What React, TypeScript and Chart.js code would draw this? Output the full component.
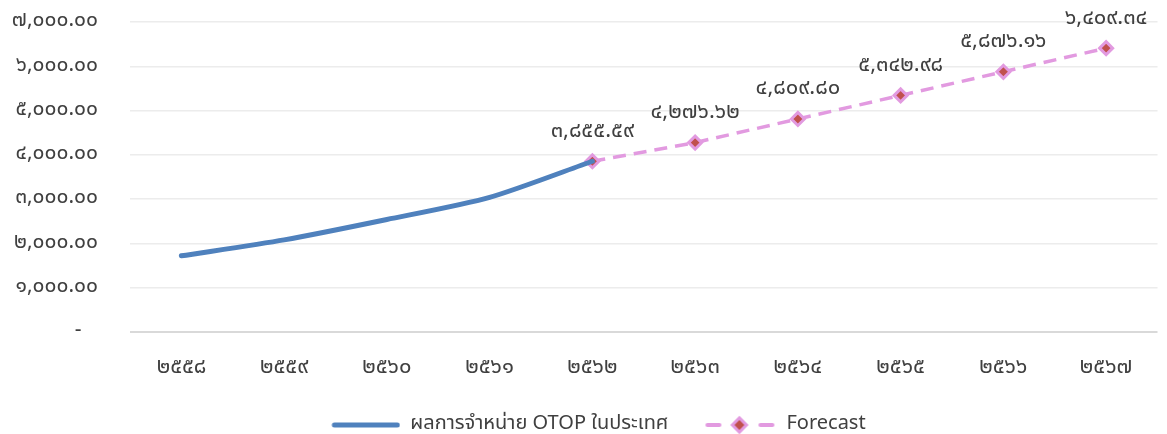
import React, { useEffect, useRef } from "react";
import { Chart, registerables } from "chart.js";

Chart.register(...registerables);

const years = ["2558", "2559", "2560", "2561", "2562", "2563", "2564", "2565", "2566", "2567"];
const actualSales = [1720, 2080, 2540, 3040, 3855.59, null, null, null, null, null];
const forecastSales = [null, null, null, null, 3855.59, 4276.62, 4809.8, 5342.98, 5876.16, 6409.34];
const actualLabel = "ผลการจำหน่าย OTOP ในประเทศ";
const forecastLabel = "Forecast";
const yMax = 7000;
const yStep = 1000;

const FONT = "'Noto Sans Thai', 'Noto Sans Thai UI', Tahoma, 'DejaVu Sans', sans-serif";
const BLUE = "#4f81bd";
const PINK = "#e29ae0";
const RED = "#c0504d";
const TEXT = "#404040";

const toThai = (s: string) => s.replace(/[0-9]/g, (d) => String.fromCharCode(0x0e50 + Number(d)));
const fmt = (v: number) =>
  toThai(v.toLocaleString("en-US", { minimumFractionDigits: 2, maximumFractionDigits: 2 }));

const SW_W = 104;

function makeLineSwatch(): HTMLCanvasElement {
  const c = document.createElement("canvas");
  c.width = SW_W;
  c.height = 8;
  const g = c.getContext("2d")!;
  g.strokeStyle = BLUE;
  g.lineWidth = 5;
  g.lineCap = "round";
  g.beginPath();
  g.moveTo(SW_W - 66, 4);
  g.lineTo(SW_W - 3, 4);
  g.stroke();
  return c;
}

function makeForecastSwatch(): HTMLCanvasElement {
  const c = document.createElement("canvas");
  c.width = SW_W;
  c.height = 20;
  const g = c.getContext("2d")!;
  const x0 = SW_W - 72;
  g.strokeStyle = PINK;
  g.lineWidth = 4;
  g.lineCap = "round";
  g.beginPath();
  g.moveTo(x0 + 3, 10);
  g.lineTo(x0 + 15, 10);
  g.moveTo(x0 + 56, 10);
  g.lineTo(x0 + 68, 10);
  g.stroke();
  g.save();
  g.translate(x0 + 35, 10);
  g.rotate(Math.PI / 4);
  g.fillStyle = PINK;
  g.fillRect(-6.5, -6.5, 13, 13);
  g.fillStyle = RED;
  g.fillRect(-3.5, -3.5, 7, 7);
  g.restore();
  return c;
}

const dataLabelPlugin = {
  id: "forecastLabels",
  afterDatasetsDraw(chart: any) {
    const meta = chart.getDatasetMeta(1);
    const ds = chart.data.datasets[1];
    const ctx = chart.ctx;
    ctx.save();
    ctx.font = `22px ${FONT}`;
    ctx.fillStyle = TEXT;
    ctx.textAlign = "center";
    ctx.textBaseline = "middle";
    meta.data.forEach((pt: any, i: number) => {
      const v = ds.data[i];
      if (v == null) return;
      ctx.fillText(fmt(v), pt.x, pt.y - 29);
    });
    ctx.restore();
  },
};

export default function App() {
  const ref = useRef<HTMLCanvasElement>(null);
  useEffect(() => {
    const lineSw = makeLineSwatch();
    const fcSw = makeForecastSwatch();
    const chart = new Chart(ref.current!, {
      type: "line",
      data: {
        labels: years.map(toThai),
        datasets: [
          {
            label: actualLabel,
            data: actualSales,
            borderColor: BLUE,
            backgroundColor: BLUE,
            borderWidth: 5,
            borderCapStyle: "round",
            tension: 0.25,
            pointRadius: 0,
            pointHoverRadius: 0,
          },
          {
            label: forecastLabel,
            data: forecastSales,
            borderColor: PINK,
            backgroundColor: PINK,
            borderWidth: 3.5,
            borderDash: [13, 8],
            tension: 0,
            pointStyle: "rectRot",
            pointRadius: 6.5,
            pointBorderWidth: 3,
            pointBorderColor: PINK,
            pointBackgroundColor: RED,
          },
        ],
      },
      options: {
        animation: false,
        responsive: true,
        maintainAspectRatio: false,
        layout: { padding: { top: 22, right: 5, left: 0, bottom: -11 } },
        plugins: {
          tooltip: { enabled: false },
          legend: {
            position: "bottom",
            labels: {
              usePointStyle: true,
              pointStyleWidth: SW_W,
              boxHeight: 18,
              padding: 4,
              color: TEXT,
              font: { family: FONT, size: 20 },
              generateLabels: (ch: any) =>
                ch.data.datasets.map((d: any, i: number) => ({
                  text: d.label,
                  pointStyle: i === 0 ? lineSw : fcSw,
                  fillStyle: "transparent",
                  strokeStyle: "transparent",
                  lineWidth: 0,
                  fontColor: TEXT,
                  hidden: false,
                  datasetIndex: i,
                })),
            },
          },
        },
        scales: {
          x: {
            offset: true,
            grid: { display: false },
            border: { display: false },
            afterFit: (s: any) => {
              s.height = 79;
              s.paddingTop = 0;
            },
            ticks: {
              color: TEXT,
              font: { family: FONT, size: 22 },
              padding: 15,
              maxRotation: 0,
            },
          },
          y: {
            min: 0,
            max: yMax,
            afterFit: (s: any) => {
              s.width = 130;
              s.paddingTop = 0;
              s.paddingBottom = 0;
            },
            border: { display: false },
            grid: {
              drawTicks: false,
              lineWidth: (c: any) => (c.tick && c.tick.value === 0 ? 2 : 1.5),
              color: (c: any) => (c.tick && c.tick.value === 0 ? "#d9d9d9" : "#ececec"),
            },
            ticks: {
              stepSize: yStep,
              padding: 32,
              color: TEXT,
              font: { family: FONT, size: 21 },
              callback: (v: any) => (Number(v) === 0 ? "-   " : fmt(Number(v))),
            },
          },
        },
      },
      plugins: [dataLabelPlugin],
    });
    return () => chart.destroy();
  }, []);
  return (
    <div style={{ position: "fixed", left: 0, top: 0, width: 1167, height: 434, background: "#fff" }}>
      <canvas ref={ref} />
    </div>
  );
}
